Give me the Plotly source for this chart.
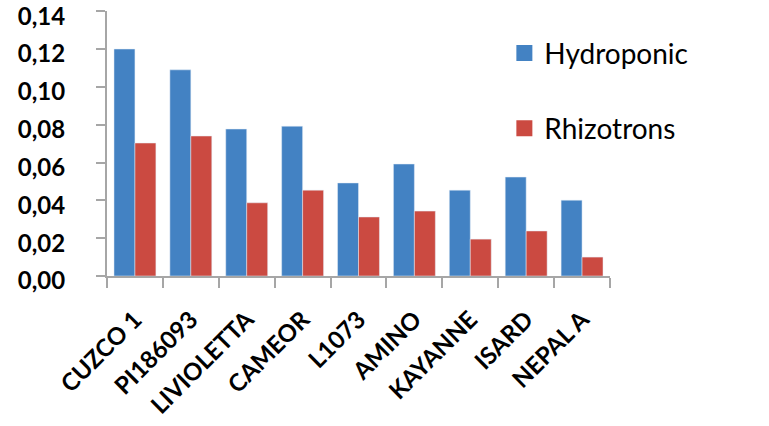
import plotly.graph_objects as go

categories = ["CUZCO 1", "PI186093", "LIVIOLETTA", "CAMEOR", "L1073", "AMINO", "KAYANNE", "ISARD", "NEPAL A"]
hydroponic = [0.120, 0.109, 0.0777, 0.0792, 0.0492, 0.0592, 0.0454, 0.0523, 0.0401]
rhizotrons = [0.0703, 0.0740, 0.0387, 0.0454, 0.0312, 0.0343, 0.0195, 0.0238, 0.0100]
y_ticks = [0, 0.02, 0.04, 0.06, 0.08, 0.10, 0.12, 0.14]

BLUE = "#4382c3"
RED = "#cb4a41"
AXIS = "#a6a6a6"

fig = go.Figure()
fig.add_trace(go.Bar(x=categories, y=hydroponic, name="Hydroponic", marker_color=BLUE,
                     showlegend=False))
fig.add_trace(go.Bar(x=categories, y=rhizotrons, name="Rhizotrons", marker_color=RED,
                     showlegend=False))
# legend entries with larger square swatches
fig.add_trace(go.Scatter(x=[None], y=[None], mode="markers", name="Hydroponic",
                         legendgroup="h", marker=dict(symbol="square", size=18, color=BLUE)))
fig.add_trace(go.Scatter(x=[None], y=[None], mode="markers", name="Rhizotrons",
                         legendgroup="r", marker=dict(symbol="square", size=18, color=RED)))

fig.update_layout(
    width=769, height=426,
    margin=dict(l=107, r=159, t=11, b=150, autoexpand=False),
    paper_bgcolor="white", plot_bgcolor="white",
    separators=", ",
    barmode="group", bargap=0.25, bargroupgap=0,
    font=dict(family="Lato", color="black"),
    legend=dict(x=0.79, xanchor="left", y=0.935, yanchor="top",
                font=dict(size=28, family="Lato", color="black"),
                tracegroupgap=36, bgcolor="rgba(0,0,0,0)"),
    xaxis=dict(type="category", showline=True, linecolor=AXIS, linewidth=2,
               ticks="outside", tickson="boundaries", ticklen=10, tickwidth=2, tickcolor=AXIS,
               tickangle=-45, tickfont=dict(size=24, family="Lato", color="black", weight="bold"),
               ticklabelstandoff=18, automargin=False,
               showgrid=False, zeroline=False),
    yaxis=dict(range=[0, 0.1401], tickvals=y_ticks, tickformat=".2f",
               showline=True, linecolor=AXIS, linewidth=2,
               ticks="outside", ticklen=9, tickwidth=2, tickcolor=AXIS,
               tickfont=dict(size=24, family="Lato", color="black", weight="bold"),
               ticklabelstandoff=26, ticklabelshift=5, ticklabeloverflow="allow",
               automargin=False,
               showgrid=False, zeroline=False),
)

fig.write_html("out.html", config={"displayModeBar": False},
               post_script="document.body.style.margin='0px';")
